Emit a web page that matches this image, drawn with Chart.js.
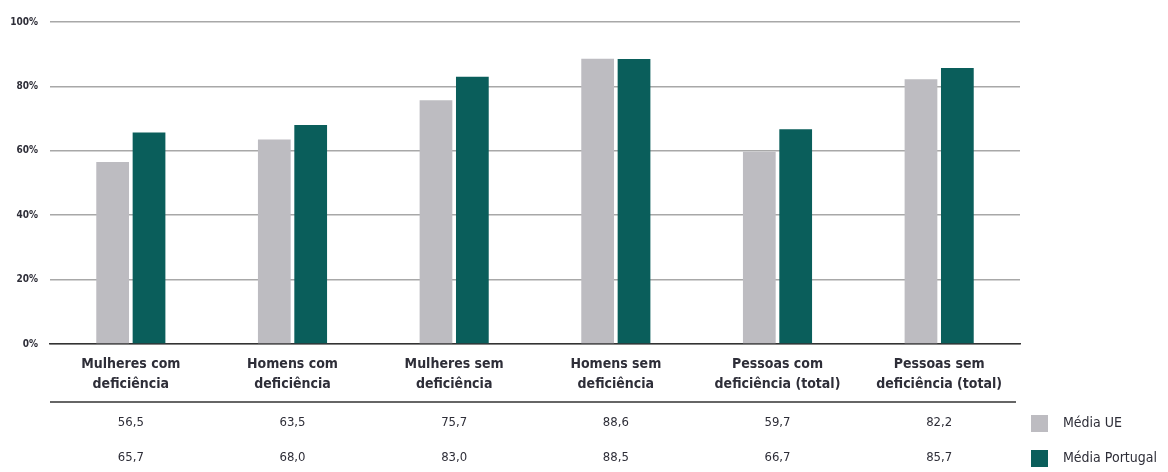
<!DOCTYPE html>
<html>
<head>
<meta charset="utf-8">
<script src="https://cdn.jsdelivr.net/npm/chart.js@4"></script>
<style>
  html, body { margin: 0; padding: 0; background: #fff; }
  #wrap { width: 1168px; height: 472px; }
</style>
</head>
<body>
<div id="wrap"><canvas id="myChart" width="1168" height="472"></canvas></div>
<script>
var categories = [
    ["Mulheres com", "deficiência"],
    ["Homens com", "deficiência"],
    ["Mulheres sem", "deficiência"],
    ["Homens sem", "deficiência"],
    ["Pessoas com", "deficiência (total)"],
    ["Pessoas sem", "deficiência (total)"]
];
var mediaUE = [56.5, 63.5, 75.7, 88.6, 59.7, 82.2];
var mediaPortugal = [65.7, 68.0, 83.0, 88.5, 66.7, 85.7];
var seriesNames = ["Média UE", "Média Portugal"];
var yTicks = [0, 20, 40, 60, 80, 100];

var FONT = "'Liberation Sans Narrow', 'DejaVu Sans Condensed', sans-serif";
var TEXT = "#2e2e38";

function fmt(v) {
    return v.toFixed(1).replace(".", ",");
}

// draws the value table under the axis and the legend at the right
var tablePlugin = {
    id: "tablePlugin",
    afterDraw: function (chart) {
        var ctx = chart.ctx;
        var x = chart.scales.x;
        var area = chart.chartArea;
        var lineY = area.bottom + 58;
        ctx.save();
        ctx.strokeStyle = "#333";
        ctx.lineWidth = 1.5;
        ctx.beginPath();
        ctx.moveTo(area.left, lineY);
        ctx.lineTo(area.right - 4, lineY);
        ctx.stroke();

        ctx.font = "13px " + FONT;
        ctx.fillStyle = TEXT;
        ctx.textAlign = "center";
        ctx.textBaseline = "middle";
        var rows = [mediaUE, mediaPortugal];
        var rowY = [lineY + 21, lineY + 56];
        rows.forEach(function (row, r) {
            row.forEach(function (v, i) {
                ctx.fillText(fmt(v), x.getPixelForValue(i), rowY[r]);
            });
        });

        ctx.font = "14px " + FONT;
        chart.data.datasets.forEach(function (ds, r) {
            ctx.fillStyle = ds.backgroundColor;
            ctx.fillRect(1031, rowY[r] - 8, 17, 17);
            ctx.fillStyle = TEXT;
            ctx.textAlign = "left";
            ctx.fillText(ds.label, 1063, rowY[r]);
        });
        ctx.restore();
    }
};

var ctx = document.getElementById("myChart");

var myChart = new Chart(ctx, {
    type: "bar",
    data: {
        labels: categories,
        datasets: [
            {
                label: seriesNames[0],
                data: mediaUE,
                backgroundColor: "#bdbcc1",
                categoryPercentage: 0.45,
                barPercentage: 0.9
            },
            {
                label: seriesNames[1],
                data: mediaPortugal,
                backgroundColor: "#0a5e5b",
                categoryPercentage: 0.45,
                barPercentage: 0.9
            }
        ]
    },
    options: {
        responsive: false,
        animation: false,
        layout: { padding: { top: 22, right: 148, bottom: 0, left: 0 } },
        plugins: {
            legend: { display: false },
            tooltip: { enabled: false }
        },
        scales: {
            x: {
                grid: { display: false },
                border: { display: true, color: "#333", width: 1.5 },
                ticks: {
                    color: TEXT,
                    padding: 3,
                    maxRotation: 0,
                    font: { family: FONT, size: 14, weight: "bold", lineHeight: 1.4 }
                },
                afterFit: function (scale) { scale.height = 128; }
            },
            y: {
                min: 0,
                max: 100,
                afterBuildTicks: function (scale) {
                    scale.ticks = yTicks.map(function (v) { return { value: v }; });
                },
                grid: { color: "#a8a8a8", lineWidth: 1.5, drawTicks: false },
                border: { display: false },
                ticks: {
                    color: TEXT,
                    padding: 12,
                    font: { family: FONT, size: 10, weight: "bold" },
                    callback: function (v) { return v + "%"; }
                },
                afterFit: function (scale) { scale.width = 50; }
            }
        }
    },
    plugins: [tablePlugin]
});
</script>
</body>
</html>
